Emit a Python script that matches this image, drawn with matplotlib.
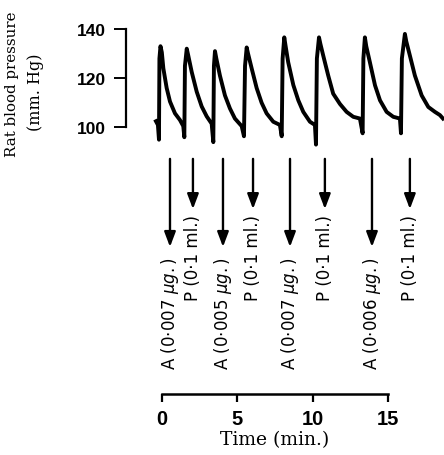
import matplotlib
matplotlib.use("Agg")
import matplotlib.pyplot as plt

# trace: time (min) and pressure (mm Hg)
trace_t = [-0.38, -0.25, -0.18, -0.15, -0.08, 0.01, 0.11, 0.33, 0.55, 0.88, 1.21, 1.43, 1.50, 1.54, 1.66, 1.75,
           1.99, 2.32, 2.65, 2.98, 3.31, 3.42, 3.46, 3.53, 3.62,
           3.86, 4.19, 4.52, 4.85, 5.30, 5.45, 5.52, 5.63, 5.72,
           5.96, 6.29, 6.62, 6.95, 7.39, 7.83, 7.95, 8.01, 8.12, 8.21,
           8.38, 8.72, 9.05, 9.38, 9.82, 10.15, 10.22, 10.28, 10.42, 10.51,
           10.70, 11.03, 11.36, 11.81, 12.25, 12.69, 13.13, 13.31, 13.36, 13.46, 13.55,
           13.79, 14.13, 14.46, 14.90, 15.34, 15.78, 15.85, 15.91, 16.11, 16.20,
           16.44, 16.77, 17.22, 17.66, 18.10, 18.43, 18.63]
trace_p = [102.5, 101, 95, 128, 133, 130.5, 124, 116, 110.5, 105.7, 103, 100.5, 96, 125, 132, 129.5,
           122.5, 114.5, 108.5, 104.5, 101.5, 94, 125, 131, 128,
           121, 113, 107.7, 103.6, 100.5, 96.4, 125, 132.5, 130,
           124, 116, 110, 105.7, 102.3, 101, 96.4, 128, 136.6, 133,
           126.5, 117.2, 111, 106.3, 102.3, 101, 93, 128, 136.6, 134,
           129.2, 121.1, 113.7, 109.5, 106.3, 104.3, 103.6, 97.6, 128, 136.6, 133,
           126.5, 117.1, 111, 106.3, 104.3, 103.6, 97.6, 128, 138, 135,
           129.2, 121.1, 113, 108.3, 106.3, 105, 103.6]

# injections
inj_t = [0.55, 2.07, 4.06, 6.05, 8.50, 10.81, 13.93, 16.44]
inj_kind = ["A", "P", "A", "P", "A", "P", "A", "P"]
inj_label = [r"A (0$\cdot$007 $\mu g.$)", "P (0·1 ml.)",
             r"A (0$\cdot$005 $\mu g.$)", "P (0·1 ml.)",
             r"A (0$\cdot$007 $\mu g.$)", "P (0·1 ml.)",
             r"A (0$\cdot$006 $\mu g.$)", "P (0·1 ml.)"]

bp_ticks = [100, 120, 140]
time_ticks = [0, 5, 10, 15]

fig = plt.figure(figsize=(4.44, 4.56), dpi=100)
ax = fig.add_axes([0, 0, 1, 1])
ax.set_xlim(-10.71, 18.70)
ax.set_ylim(-33.2, 152.2)

ax.plot(trace_t, trace_p, color="black", lw=2.8, solid_joinstyle="round")

# arrows + labels
for t, kind, lab in zip(inj_t, inj_kind, inj_label):
    tip = 51.4 if kind == "A" else 66.8
    txt_top = 47.7 if kind == "A" else 64.8
    ax.annotate("", xy=(t, tip), xytext=(t, 87.2),
                arrowprops=dict(arrowstyle="-|>,head_length=0.45,head_width=0.17",
                                lw=1.7, color="black", mutation_scale=20,
                                shrinkA=0, shrinkB=0))
    ax.text(t, txt_top, lab, rotation=90, ha="center", va="top",
            fontsize=12, family="DejaVu Sans")

# axes
for s in ["top", "right"]:
    ax.spines[s].set_visible(False)
ax.spines["left"].set_position(("data", -2.38))
ax.spines["left"].set_bounds(100, 140)
ax.spines["left"].set_linewidth(1.6)
ax.spines["bottom"].set_position(("data", -8.4))
ax.spines["bottom"].set_bounds(0, 15)
ax.spines["bottom"].set_linewidth(1.8)
ax.set_yticks(bp_ticks)
ax.set_xticks(time_ticks)
ax.tick_params(axis="y", direction="out", length=8.6, width=1.4, pad=5.5)
ax.tick_params(axis="x", direction="out", length=6, width=1.6, pad=5)
for lab in ax.get_yticklabels():
    lab.set_fontfamily("Liberation Sans")
    lab.set_fontweight("bold")
    lab.set_fontsize(12.5)
for lab in ax.get_xticklabels():
    lab.set_fontfamily("Liberation Sans")
    lab.set_fontweight("bold")
    lab.set_fontsize(14.5)

ax.text(7.5, -26.7, "Time (min.)", ha="center", va="center",
        fontsize=13.5, family="DejaVu Serif")
fig.text(12 / 444, 1 - 84 / 456, "Rat blood pressure", rotation=90,
         ha="center", va="center", fontsize=10.8, family="DejaVu Serif")
fig.text(35 / 444, 1 - 92 / 456, "(mm. Hg)", rotation=90,
         ha="center", va="center", fontsize=11.5, family="DejaVu Serif")

fig.savefig("out.png", dpi=100)
